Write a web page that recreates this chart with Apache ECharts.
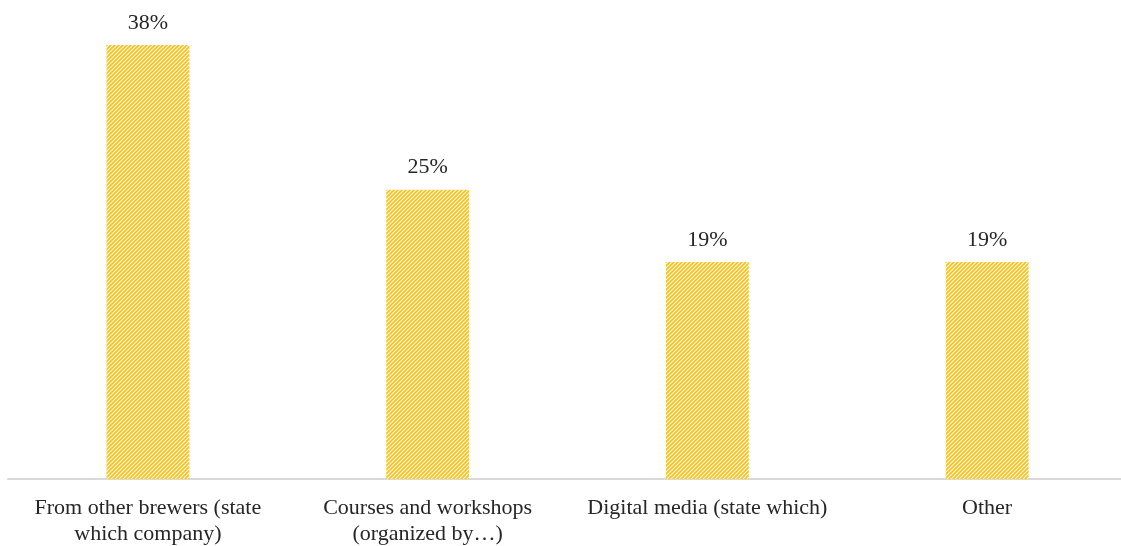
<!DOCTYPE html>
<html>
<head>
<meta charset="utf-8">
<script src="https://cdn.jsdelivr.net/npm/echarts@6/dist/echarts.min.js"></script>
<style>html,body{margin:0;padding:0;background:#fff}#c{width:1121px;height:546px}</style>
</head>
<body>
<div id="c"></div>
<script>
const categories = ['From other brewers (state\nwhich company)', 'Courses and workshops\n(organized by…)', 'Digital media (state which)', 'Other'];
const values = [37.5, 25, 18.75, 18.75];

const pc = document.createElement('canvas');
pc.width = 4; pc.height = 4;
const ctx = pc.getContext('2d');
ctx.fillStyle = '#ffffff';
ctx.fillRect(0, 0, 4, 4);
ctx.strokeStyle = '#FBC11B';
ctx.lineWidth = 1.9;
ctx.beginPath();
ctx.moveTo(-1, 5); ctx.lineTo(5, -1);
ctx.moveTo(-1, 1); ctx.lineTo(1, -1);
ctx.moveTo(3, 5); ctx.lineTo(5, 3);
ctx.stroke();

const chart = echarts.init(document.getElementById('c'));
chart.setOption({
  animation: false,
  grid: { left: 8, width: 1119, top: 16, bottom: 67, containLabel: false, outerBoundsMode: 'none' },
  xAxis: {
    type: 'category',
    data: categories,
    axisLine: { lineStyle: { color: '#d9d9d9', width: 2 } },
    axisTick: { show: false },
    axisLabel: { fontFamily: 'Liberation Serif', fontSize: 22, color: '#262626', margin: 16, lineHeight: 26, interval: 0 }
  },
  yAxis: { type: 'value', min: 0, max: 40, show: false, splitLine: { show: false } },
  series: [{
    type: 'bar',
    data: values,
    barWidth: '29.6%',
    itemStyle: { color: { image: pc, repeat: 'repeat' } },
    label: {
      show: true, position: 'top', distance: 11,
      fontFamily: 'Liberation Serif', fontSize: 22, color: '#262626',
      formatter: p => Math.round(p.value) + '%'
    }
  }]
});
</script>
</body>
</html>
